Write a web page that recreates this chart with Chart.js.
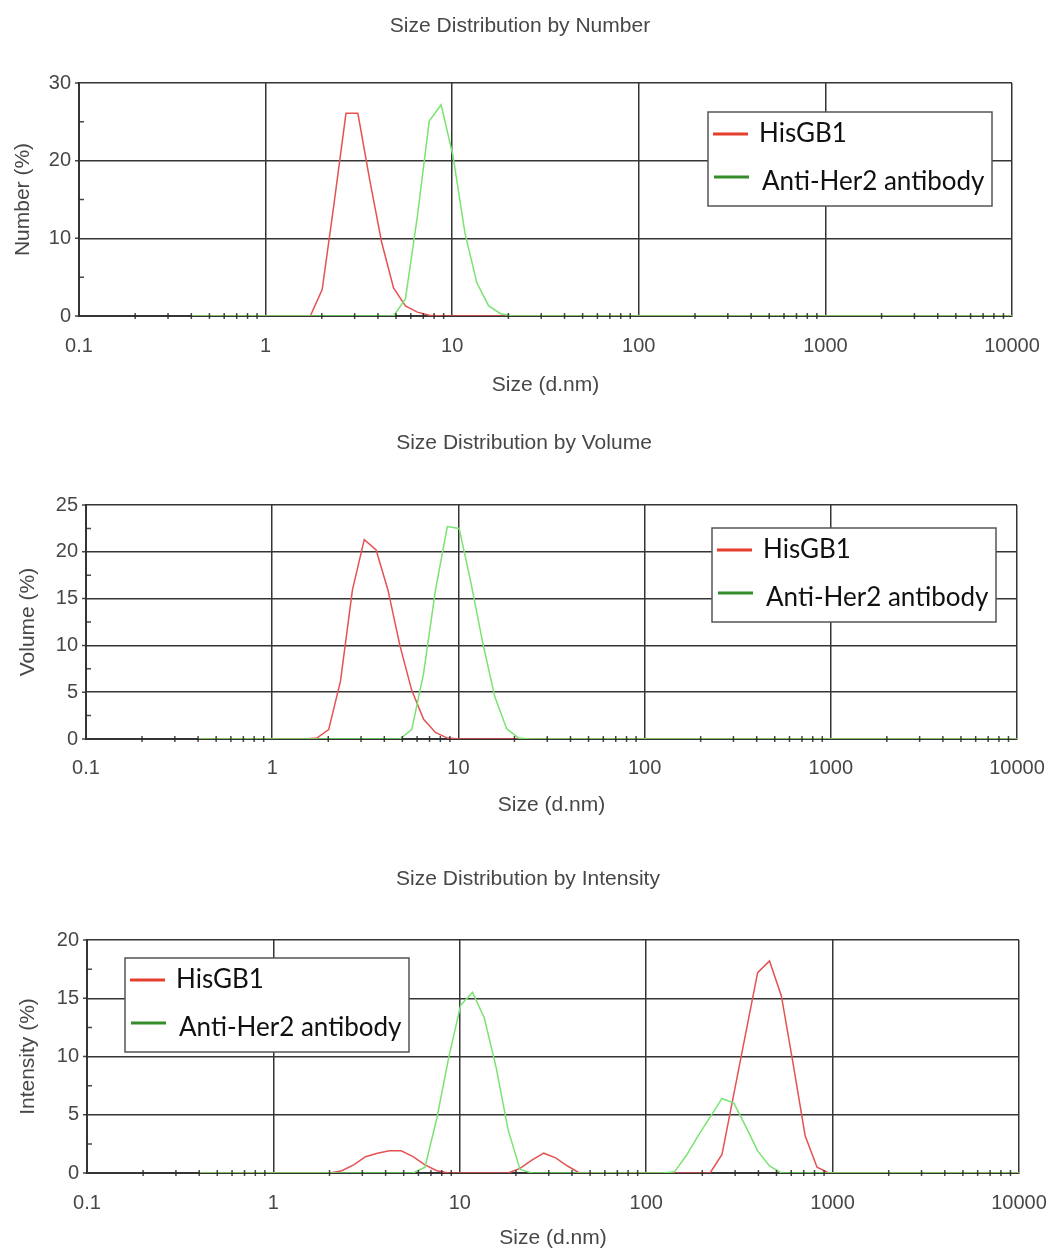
<!DOCTYPE html>
<html>
<head>
<meta charset="utf-8">
<title>Size distribution</title>
<script src="https://cdn.jsdelivr.net/npm/chart.js@4.4.1/dist/chart.umd.min.js"></script>
<style>
  body { margin: 0; background: #fff; }
  canvas { position: absolute; left: 0; }
</style>
</head>
<body>
<canvas id="number" width="1054" height="420" style="top:0px"></canvas>
<canvas id="volume" width="1054" height="430" style="top:420px"></canvas>
<canvas id="intensity" width="1054" height="403" style="top:850px"></canvas>
<script>
// DLS size bins (d.nm)
const sizes = [
  0.4, 0.4632, 0.5365, 0.6213, 0.7195, 0.8332, 0.9649, 1.117, 1.294, 1.499,
  1.736, 2.010, 2.328, 2.696, 3.122, 3.615, 4.187, 4.849, 5.615, 6.503,
  7.531, 8.721, 10.10, 11.70, 13.54, 15.69, 18.17, 21.04, 24.36, 28.21,
  32.67, 37.84, 43.82, 50.75, 58.77, 68.06, 78.82, 91.28, 105.7, 122.4,
  141.8, 164.2, 190.1, 220.2, 255.0, 295.3, 342.0, 396.1, 458.7, 531.2,
  615.1, 712.4, 825.0, 955.4, 1106, 1281, 1484, 1718, 1990, 2305,
  2669, 3091, 3580, 4145, 4801, 5560, 6439, 7456, 8635, 10000
];

const numberHis = [
  0, 0, 0, 0, 0, 0, 0, 0, 0, 0,
  0, 3.4, 14.5, 26.1, 26.1, 17.5, 9.5, 3.6, 1.3, 0.5,
  0.1, 0, 0, 0, 0, 0, 0, 0, 0, 0,
  0, 0, 0, 0, 0, 0, 0, 0, 0, 0,
  0, 0, 0, 0, 0, 0, 0, 0, 0, 0,
  0, 0, 0, 0, 0, 0, 0, 0, 0, 0,
  0, 0, 0, 0, 0, 0, 0, 0, 0, 0
];
const numberAnti = [
  0, 0, 0, 0, 0, 0, 0, 0, 0, 0,
  0, 0, 0, 0, 0, 0, 0, 0, 2.2, 12.8,
  25.1, 27.2, 20.6, 10.7, 4.3, 1.3, 0.3, 0, 0, 0,
  0, 0, 0, 0, 0, 0, 0, 0, 0, 0,
  0, 0, 0, 0, 0, 0, 0, 0, 0, 0,
  0, 0, 0, 0, 0, 0, 0, 0, 0, 0,
  0, 0, 0, 0, 0, 0, 0, 0, 0, 0
];

const volumeHis = [
  0, 0, 0, 0, 0, 0, 0, 0, 0, 0,
  0.1, 1.0, 6.2, 15.9, 21.3, 20.2, 15.9, 10.0, 5.2, 2.1,
  0.7, 0.1, 0, 0, 0, 0, 0, 0, 0, 0,
  0, 0, 0, 0, 0, 0, 0, 0, 0, 0,
  0, 0, 0, 0, 0, 0, 0, 0, 0, 0,
  0, 0, 0, 0, 0, 0, 0, 0, 0, 0,
  0, 0, 0, 0, 0, 0, 0, 0, 0, 0
];
const volumeAnti = [
  0, 0, 0, 0, 0, 0, 0, 0, 0, 0,
  0, 0, 0, 0, 0, 0, 0, 0, 1.0, 7.0,
  15.9, 22.7, 22.5, 16.6, 10.2, 4.5, 1.1, 0.1, 0, 0,
  0, 0, 0, 0, 0, 0, 0, 0, 0, 0,
  0, 0, 0, 0, 0, 0, 0, 0, 0, 0,
  0, 0, 0, 0, 0, 0, 0, 0, 0, 0,
  0, 0, 0, 0, 0, 0, 0, 0, 0, 0
];

const intensityHis = [
  0, 0, 0, 0, 0, 0, 0, 0, 0, 0,
  0, 0, 0.2, 0.7, 1.4, 1.7, 1.9, 1.9, 1.4, 0.7,
  0.2, 0, 0, 0, 0, 0, 0, 0.4, 1.1, 1.7,
  1.3, 0.6, 0, 0, 0, 0, 0, 0, 0, 0,
  0, 0, 0, 0, 1.6, 6.8, 12.0, 17.2, 18.2, 15.2,
  9.3, 3.2, 0.5, 0, 0, 0, 0, 0, 0, 0,
  0, 0, 0, 0, 0, 0, 0, 0, 0, 0
];
const intensityAnti = [
  0, 0, 0, 0, 0, 0, 0, 0, 0, 0,
  0, 0, 0, 0, 0, 0, 0, 0, 0, 0.5,
  4.7, 9.9, 14.4, 15.5, 13.3, 9.0, 3.7, 0.3, 0, 0,
  0, 0, 0, 0, 0, 0, 0, 0, 0, 0,
  0.1, 1.5, 3.2, 4.8, 6.4, 6.0, 4.0, 1.9, 0.6, 0,
  0, 0, 0, 0, 0, 0, 0, 0, 0, 0,
  0, 0, 0, 0, 0, 0, 0, 0, 0, 0
];

const seriesNames = ['HisGB1', 'Anti-Her2 antibody'];
const xTicks = [0.1, 1, 10, 100, 1000, 10000];
const numberYTicks = [0, 10, 20, 30];
const volumeYTicks = [0, 5, 10, 15, 20, 25];
const intensityYTicks = [0, 5, 10, 15, 20];

const FONT = '"Liberation Sans", Arial, sans-serif';
const TEXT = '#474747';
const GRID = '#353535';
const RED = 'rgb(228,82,82)';
const GREEN = 'rgb(122,228,112)';
const LEG_RED = 'rgb(230,62,44)';
const LEG_GREEN = 'rgb(52,140,42)';

// minor log ticks on the x axis: 2..9 in every decade
const minorX = [];
for (let k = -1; k < 4; k++) {
  for (let d = 2; d < 10; d++) minorX.push(d * Math.pow(10, k));
}

const decor = {
  id: 'dlsDecor',
  afterDatasetsDraw(chart, args, opts) {
    const ctx = chart.ctx, x = chart.scales.x, y = chart.scales.y, a = chart.chartArea;
    ctx.save();
    ctx.strokeStyle = 'rgba(40,40,40,0.85)';
    ctx.lineWidth = 1.5;
    ctx.beginPath();
    minorX.forEach(v => {
      const px = x.getPixelForValue(v);
      ctx.moveTo(px, a.bottom - 3);
      ctx.lineTo(px, a.bottom + 3);
    });
    for (let v = opts.minorStep; v < y.max; v += opts.minorStep * 2) {
      const py = y.getPixelForValue(v);
      ctx.moveTo(a.left, py);
      ctx.lineTo(a.left + 5, py);
    }
    y.ticks.forEach(t => {
      const py = y.getPixelForValue(t.value);
      ctx.moveTo(a.left - 4, py);
      ctx.lineTo(a.left, py);
    });
    ctx.stroke();

    // chart title
    ctx.fillStyle = TEXT;
    ctx.font = '21px ' + FONT;
    ctx.textAlign = 'center';
    ctx.textBaseline = 'middle';
    ctx.fillText(opts.title, opts.titleX, opts.titleY);

    // legend box
    const L = opts.legend;
    ctx.fillStyle = '#fff';
    ctx.fillRect(L.x, L.y, 284, 94);
    ctx.strokeStyle = '#555';
    ctx.lineWidth = 1.5;
    ctx.strokeRect(L.x, L.y, 284, 94);
    const rows = [
      { text: seriesNames[0], color: LEG_RED, lx: 5, tx: 51, ly: 22, ty: 22 },
      { text: seriesNames[1], color: LEG_GREEN, lx: 6, tx: 54, ly: 65, ty: 70 }
    ];
    ctx.font = '26px Lato, "Open Sans", sans-serif';
    ctx.textAlign = 'left';
    rows.forEach(r => {
      ctx.strokeStyle = r.color;
      ctx.lineWidth = 3;
      ctx.beginPath();
      ctx.moveTo(L.x + r.lx, L.y + r.ly);
      ctx.lineTo(L.x + r.lx + 35, L.y + r.ly);
      ctx.stroke();
      ctx.fillStyle = '#111';
      ctx.fillText(r.text, L.x + r.tx, L.y + r.ty);
    });
    ctx.restore();
  }
};

function makeChart(id, cfg) {
  const pts = vals => sizes.map((s, i) => ({ x: s, y: vals[i] }));
  return new Chart(document.getElementById(id), {
    type: 'line',
    data: {
      datasets: [
        { label: seriesNames[0], data: pts(cfg.his), borderColor: RED, borderWidth: 1.5, pointRadius: 0, tension: 0, order: 1 },
        { label: seriesNames[1], data: pts(cfg.anti), borderColor: GREEN, borderWidth: 1.5, pointRadius: 0, tension: 0, order: 0 }
      ]
    },
    plugins: [decor],
    options: {
      responsive: false,
      animation: false,
      layout: { padding: { left: 0, right: cfg.padRight, top: cfg.plotTop, bottom: 0 } },
      plugins: {
        legend: { display: false },
        tooltip: { enabled: false },
        title: { display: false },
        dlsDecor: { legend: cfg.legend, minorStep: cfg.minorStep, title: cfg.title, titleX: cfg.titleX, titleY: cfg.titleY }
      },
      scales: {
        x: {
          type: 'logarithmic', min: 0.1, max: 10000,
          afterBuildTicks: s => { s.ticks = xTicks.map(v => ({ value: v })); },
          afterFit: s => { s.height = cfg.xHeight; s.paddingLeft = 0; s.paddingRight = 0; },
          ticks: { color: TEXT, font: { family: FONT, size: 20 }, padding: cfg.xTickPad, maxRotation: 0, autoSkip: false, callback: v => String(v) },
          grid: { color: GRID, lineWidth: 1.5, drawTicks: false },
          border: { color: GRID, width: 2 },
          title: { display: true, text: 'Size (d.nm)', color: TEXT, font: { family: FONT, size: 21 }, padding: { top: 0, bottom: cfg.xTitleBottom } }
        },
        y: {
          min: 0, max: cfg.yTicks[cfg.yTicks.length - 1],
          afterBuildTicks: s => { s.ticks = cfg.yTicks.map(v => ({ value: v })); },
          afterFit: s => { s.width = cfg.yWidth; s.paddingTop = 0; },
          ticks: { color: TEXT, font: { family: FONT, size: 20 }, padding: 8 },
          grid: { color: GRID, lineWidth: 1.5, drawTicks: false },
          border: { color: GRID, width: 2 },
          title: { display: true, text: cfg.yTitle, color: TEXT, font: { family: FONT, size: 21 }, padding: { top: cfg.yTitleTop, bottom: 0 } }
        }
      }
    }
  });
}

makeChart('number', {
  title: 'Size Distribution by Number', titleX: 520, titleY: 26, yTitle: 'Number (%)',
  his: numberHis, anti: numberAnti, yTicks: numberYTicks, minorStep: 5,
  padRight: 42, plotTop: 83, xHeight: 104, xTickPad: 18, xTitleBottom: 22,
  yWidth: 79, yTitleTop: 11, legend: { x: 708, y: 112 }
});
makeChart('volume', {
  title: 'Size Distribution by Volume', titleX: 524, titleY: 23, yTitle: 'Volume (%)',
  his: volumeHis, anti: volumeAnti, yTicks: volumeYTicks, minorStep: 2.5,
  padRight: 37, plotTop: 85, xHeight: 111, xTickPad: 17, xTitleBottom: 32,
  yWidth: 86, yTitleTop: 16, legend: { x: 712, y: 108 }
});
makeChart('intensity', {
  title: 'Size Distribution by Intensity', titleX: 528, titleY: 29, yTitle: 'Intensity (%)',
  his: intensityHis, anti: intensityAnti, yTicks: intensityYTicks, minorStep: 2.5,
  padRight: 35, plotTop: 90, xHeight: 80, xTickPad: 18, xTitleBottom: 2,
  yWidth: 87, yTitleTop: 16, legend: { x: 125, y: 108 }
});
</script>
</body>
</html>
